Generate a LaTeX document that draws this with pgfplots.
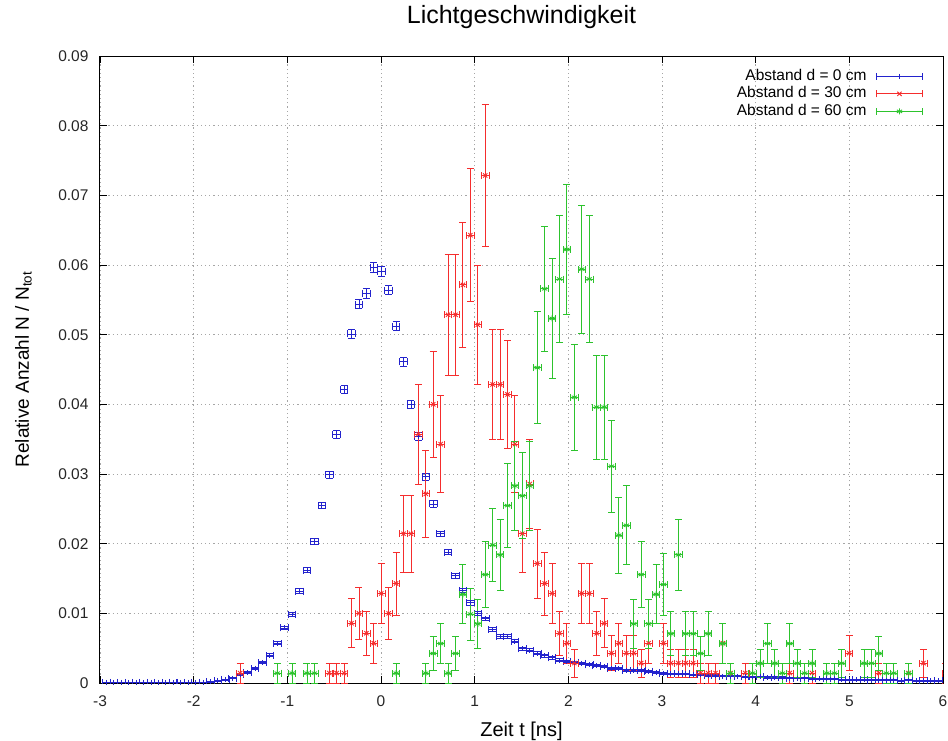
\documentclass[border=0pt]{standalone}
\usepackage{pgfplots}
\pgfplotsset{compat=1.18}
\usepackage{pgfplotstable}
\usepackage{fontspec}
\setmainfont{Liberation Sans}
\setsansfont{Liberation Sans}
\definecolor{gpblue}{RGB}{35,35,205}
\definecolor{gpred}{RGB}{245,45,45}
\definecolor{gpgreen}{RGB}{45,195,45}

\pgfplotstableread{
t y dx dy
-2.9315 0.00008 0.04 0.000026
-2.8522 0.00008 0.04 0.000026
-2.7729 0.00008 0.04 0.000026
-2.6936 0.00008 0.04 0.000026
-2.6143 0.00008 0.04 0.000026
-2.5350 0.00008 0.04 0.000026
-2.4557 0.00008 0.04 0.000026
-2.3764 0.00008 0.04 0.000026
-2.2971 0.0001 0.04 0.000029
-2.2178 0.0001 0.04 0.000029
-2.1385 0.0001 0.04 0.000029
-2.0592 0.0001 0.04 0.000029
-1.9799 0.0001 0.04 0.000029
-1.9006 0.0001 0.04 0.000029
-1.8213 0.00015 0.04 0.000035
-1.7420 0.0003 0.04 0.00005
-1.6627 0.00045 0.04 0.000061
-1.5834 0.0007 0.04 0.000076
-1.5041 0.00115 0.04 0.000097
-1.4248 0.0015 0.04 0.000111
-1.3455 0.0021 0.04 0.000131
-1.2662 0.0029 0.04 0.000154
-1.1869 0.0040 0.04 0.000181
-1.1076 0.0057 0.04 0.000216
-1.0283 0.0079 0.04 0.000255
-0.9490 0.0099 0.04 0.000285
-0.8697 0.0132 0.04 0.000329
-0.7904 0.0162 0.04 0.000365
-0.7111 0.0203 0.04 0.000408
-0.6318 0.0255 0.04 0.000457
-0.5525 0.0299 0.04 0.000495
-0.4732 0.0357 0.04 0.000541
-0.3939 0.0421 0.04 0.000588
-0.3146 0.0501 0.04 0.000641
-0.2353 0.0544 0.04 0.000668
-0.1560 0.0559 0.04 0.000677
-0.0767 0.0596 0.04 0.000699
0.0026 0.0591 0.04 0.000696
0.0819 0.0564 0.04 0.00068
0.1612 0.0512 0.04 0.000648
0.2405 0.0461 0.04 0.000615
0.3198 0.0400 0.04 0.000573
0.3991 0.0354 0.04 0.000539
0.4784 0.0296 0.04 0.000493
0.5577 0.0257 0.04 0.000459
0.6370 0.0214 0.04 0.000419
0.7163 0.0188 0.04 0.000393
0.7956 0.0154 0.04 0.000355
0.8749 0.0133 0.04 0.00033
0.9542 0.0115 0.04 0.000307
1.0335 0.0100 0.04 0.000286
1.1128 0.0092 0.04 0.000275
1.1921 0.0077 0.04 0.000251
1.2714 0.0067 0.04 0.000234
1.3507 0.0067 0.04 0.000234
1.4300 0.0060 0.04 0.000222
1.5093 0.0049 0.04 0.0002
1.5886 0.0047 0.04 0.000196
1.6679 0.0043 0.04 0.000188
1.7472 0.0039 0.04 0.000179
1.8265 0.0036 0.04 0.000172
1.9058 0.0033 0.04 0.000164
1.9851 0.0031 0.04 0.000159
2.0644 0.0030 0.04 0.000157
2.1437 0.0028 0.04 0.000152
2.2230 0.0026 0.04 0.000146
2.3023 0.0025 0.04 0.000143
2.3816 0.0024 0.04 0.00014
2.4609 0.0021 0.04 0.000131
2.5402 0.0021 0.04 0.000131
2.6195 0.0018 0.04 0.000122
2.6988 0.0018 0.04 0.000122
2.7781 0.0018 0.04 0.000122
2.8574 0.0017 0.04 0.000118
2.9367 0.0015 0.04 0.000111
3.0160 0.0014 0.04 0.000107
3.0953 0.0013 0.04 0.000103
3.1746 0.0013 0.04 0.000103
3.2539 0.0013 0.04 0.000103
3.3332 0.0012 0.04 0.000099
3.4125 0.0012 0.04 0.000099
3.4918 0.0011 0.04 0.000095
3.5711 0.0011 0.04 0.000095
3.6504 0.0010 0.04 0.000091
3.7297 0.0010 0.04 0.000091
3.8090 0.0010 0.04 0.000091
3.8883 0.0009 0.04 0.000086
3.9676 0.0009 0.04 0.000086
4.0469 0.0009 0.04 0.000086
4.1262 0.0008 0.04 0.000081
4.2055 0.0008 0.04 0.000081
4.2848 0.0008 0.04 0.000081
4.3641 0.0007 0.04 0.000076
4.4434 0.0007 0.04 0.000076
4.5227 0.0007 0.04 0.000076
4.6020 0.0006 0.04 0.00007
4.6813 0.0006 0.04 0.00007
4.7606 0.0006 0.04 0.00007
4.8399 0.0006 0.04 0.00007
4.9192 0.0005 0.04 0.000064
4.9985 0.0005 0.04 0.000064
5.0778 0.0005 0.04 0.000064
5.1571 0.0005 0.04 0.000064
5.2364 0.0004 0.04 0.000057
5.3157 0.0004 0.04 0.000057
5.3950 0.0004 0.04 0.000057
5.4743 0.0004 0.04 0.000057
5.5536 0.0003 0.04 0.00005
5.6329 0.0004 0.04 0.000057
5.7122 0.0003 0.04 0.00005
5.7915 0.0003 0.04 0.00005
5.8708 0.0003 0.04 0.00005
5.9501 0.0003 0.04 0.00005
}\dzero

\pgfplotstableread{
t y dx dy
-1.5041 0.001429 0.04 0.001429
-0.5525 0.001429 0.04 0.001429
-0.4732 0.001429 0.04 0.001429
-0.3939 0.001429 0.04 0.001429
-0.3146 0.008571 0.04 0.003499
-0.2353 0.010000 0.04 0.003780
-0.1560 0.007143 0.04 0.003194
-0.0767 0.005714 0.04 0.002857
0.0026 0.012857 0.04 0.004286
0.0819 0.010000 0.04 0.003780
0.1612 0.014286 0.04 0.004518
0.2405 0.021429 0.04 0.005533
0.3198 0.021429 0.04 0.005533
0.3991 0.035714 0.04 0.007143
0.4784 0.027143 0.04 0.006227
0.5577 0.040000 0.04 0.007559
0.6370 0.034286 0.04 0.006999
0.7163 0.052857 0.04 0.008690
0.7956 0.052857 0.04 0.008690
0.8749 0.057143 0.04 0.009035
0.9542 0.064286 0.04 0.009583
1.0335 0.051429 0.04 0.008571
1.1128 0.072857 0.04 0.010202
1.1921 0.042857 0.04 0.007825
1.2714 0.042857 0.04 0.007825
1.3507 0.041429 0.04 0.007693
1.4300 0.034286 0.04 0.006999
1.5093 0.021429 0.04 0.005533
1.5886 0.028571 0.04 0.006389
1.6679 0.017143 0.04 0.004949
1.7472 0.014286 0.04 0.004518
1.8265 0.012857 0.04 0.004286
1.9058 0.007143 0.04 0.003194
1.9851 0.005714 0.04 0.002857
2.0644 0.002857 0.04 0.002020
2.1437 0.012857 0.04 0.004286
2.2230 0.012857 0.04 0.004286
2.3023 0.007143 0.04 0.003194
2.3816 0.008571 0.04 0.003499
2.4609 0.004286 0.04 0.002474
2.5402 0.005714 0.04 0.002857
2.6195 0.004286 0.04 0.002474
2.6988 0.004286 0.04 0.002474
2.7781 0.002857 0.04 0.002020
2.8574 0.005714 0.04 0.002857
3.0160 0.005714 0.04 0.002857
3.0953 0.002857 0.04 0.002020
3.1746 0.002857 0.04 0.002020
3.2539 0.002857 0.04 0.002020
3.3332 0.002857 0.04 0.002020
3.4125 0.001429 0.04 0.001429
3.4918 0.001429 0.04 0.001429
3.5711 0.001429 0.04 0.001429
3.6504 0.005714 0.04 0.002857
3.7297 0.001429 0.04 0.001429
3.8883 0.001429 0.04 0.001429
4.3641 0.001429 0.04 0.001429
4.6020 0.001429 0.04 0.001429
4.9985 0.004286 0.04 0.002474
5.3157 0.001429 0.04 0.001429
5.6329 0.001429 0.04 0.001429
5.7915 0.002857 0.04 0.002020
6.0294 0.001429 0.04 0.001429
}\dthirty

\pgfplotstableread{
t y dx dy
-1.1076 0.001414 0.04 0.001414
-0.9490 0.001414 0.04 0.001414
-0.7904 0.001414 0.04 0.001414
-0.7111 0.001414 0.04 0.001414
0.1612 0.001414 0.04 0.001414
0.4784 0.001414 0.04 0.001414
0.5577 0.004243 0.04 0.002450
0.6370 0.005658 0.04 0.002829
0.7163 0.001414 0.04 0.001414
0.7956 0.004243 0.04 0.002450
0.8749 0.012730 0.04 0.004243
0.9542 0.009901 0.04 0.003742
1.0335 0.008487 0.04 0.003465
1.1128 0.015559 0.04 0.004691
1.1921 0.019802 0.04 0.005292
1.2714 0.018388 0.04 0.005100
1.3507 0.025460 0.04 0.006001
1.4300 0.028289 0.04 0.006326
1.5093 0.026874 0.04 0.006165
1.5886 0.028289 0.04 0.006326
1.6679 0.045262 0.04 0.008001
1.7472 0.056577 0.04 0.008946
1.8265 0.052334 0.04 0.008603
1.9058 0.057991 0.04 0.009057
1.9851 0.062235 0.04 0.009382
2.0644 0.041018 0.04 0.007617
2.1437 0.059406 0.04 0.009166
2.2230 0.057991 0.04 0.009057
2.3023 0.039604 0.04 0.007484
2.3816 0.039604 0.04 0.007484
2.4609 0.031117 0.04 0.006634
2.5402 0.021216 0.04 0.005478
2.6195 0.022631 0.04 0.005658
2.6988 0.008487 0.04 0.003465
2.7781 0.015559 0.04 0.004691
2.8574 0.008487 0.04 0.003465
2.9367 0.012730 0.04 0.004243
3.0160 0.014144 0.04 0.004473
3.0953 0.007072 0.04 0.003163
3.1746 0.018388 0.04 0.005100
3.2539 0.007072 0.04 0.003163
3.3332 0.007072 0.04 0.003163
3.4125 0.004243 0.04 0.002450
3.4918 0.007072 0.04 0.003163
3.6504 0.005658 0.04 0.002829
3.7297 0.001414 0.04 0.001414
3.9676 0.001414 0.04 0.001414
4.0469 0.002829 0.04 0.002000
4.1262 0.005658 0.04 0.002829
4.2055 0.002829 0.04 0.002000
4.2848 0.001414 0.04 0.001414
4.3641 0.005658 0.04 0.002829
4.4434 0.002829 0.04 0.002000
4.5227 0.001414 0.04 0.001414
4.6020 0.002829 0.04 0.002000
4.7606 0.001414 0.04 0.001414
4.8399 0.001414 0.04 0.001414
4.9192 0.002829 0.04 0.002000
5.1571 0.002829 0.04 0.002000
5.2364 0.002829 0.04 0.002000
5.3157 0.004243 0.04 0.002450
5.3950 0.001414 0.04 0.001414
5.4743 0.001414 0.04 0.001414
5.6329 0.001414 0.04 0.001414
}\dsixty

\begin{document}
\begin{tikzpicture}
\useasboundingbox (-100pt,-57pt) rectangle (848pt,683pt);
\begin{axis}[
  at={(0pt,0pt)}, anchor=south west,
  width=843pt, height=627pt, scale only axis,
  xmin=-3, xmax=6, ymin=0, ymax=0.09,
  xtick={-3,-2,-1,0,1,2,3,4,5,6},
  ytick={0,0.01,0.02,0.03,0.04,0.05,0.06,0.07,0.08,0.09},
  scaled y ticks=false,
  /pgf/number format/assume math mode=true,
  tick label style={font=\fontsize{15.5}{18}\selectfont, text=black!85},
  xticklabel style={yshift=-9pt},
  yticklabel style={/pgf/number format/fixed, /pgf/number format/precision=2, xshift=-8pt},
  tick align=inside, major tick length=7pt,
  tick style={black, line width=0.9pt},
  axis line style={black, line width=1pt},
  grid=major,
  grid style={gray!70, line width=0.9pt, dash pattern=on 1.2pt off 3pt},
  title={Lichtgeschwindigkeit},
  title style={at={(axis description cs:0.5,1)}, anchor=base, yshift=27pt, font=\fontsize{25}{30}\selectfont},
  xlabel={Zeit t [ns]},
  xlabel style={at={(axis description cs:0.5,0)}, anchor=base, yshift=-53pt, font=\fontsize{20}{24}\selectfont},
  ylabel={Relative Anzahl N / N\textsubscript{tot}},
  ylabel style={at={(axis description cs:0,0.5)}, anchor=base, yshift=71pt, font=\fontsize{19}{22}\selectfont},
  legend plot pos=right,
  legend cell align=right,
  legend style={at={(axis description cs:0.98,0.985)}, anchor=north east, draw=none, fill=none,
    font=\fontsize{15.5}{18}\selectfont, /tikz/column sep=8pt,
    nodes={inner sep=1.5pt, text height=11pt, text depth=3.5pt}},
  legend image code/.code={
    \draw[#1, mark=none] (0pt,0pt) -- (46pt,0pt);
    \draw[#1, mark=none] (0pt,-3.5pt) -- (0pt,3.5pt);
    \draw[#1, mark=none] (46pt,-3.5pt) -- (46pt,3.5pt);
    \draw[#1, only marks] plot coordinates {(23pt,0pt)};
  },
]
\addplot[only marks, gpblue, mark=+, mark size=2.5pt, line width=0.9pt,
  error bars/.cd, x dir=both, x explicit, y dir=both, y explicit,
  error bar style={gpblue, line width=0.9pt},
  error mark options={rotate=90, gpblue, line width=0.9pt, mark size=3.5pt}]
  table[x=t, y=y, x error=dx, y error=dy] {\dzero};
\addlegendentry{Abstand d = 0 cm}
\addplot[only marks, gpred, mark=x, mark size=3pt, line width=0.9pt,
  error bars/.cd, x dir=both, x explicit, y dir=both, y explicit,
  error bar style={gpred, line width=0.9pt},
  error mark options={rotate=90, gpred, line width=0.9pt, mark size=3.5pt}]
  table[x=t, y=y, x error=dx, y error=dy] {\dthirty};
\addlegendentry{Abstand d = 30 cm}
\addplot[only marks, gpgreen, mark=asterisk, mark size=3pt, line width=0.9pt,
  error bars/.cd, x dir=both, x explicit, y dir=both, y explicit,
  error bar style={gpgreen, line width=0.9pt},
  error mark options={rotate=90, gpgreen, line width=0.9pt, mark size=3.5pt}]
  table[x=t, y=y, x error=dx, y error=dy] {\dsixty};
\addlegendentry{Abstand d = 60 cm}
\end{axis}
\end{tikzpicture}
\end{document}
